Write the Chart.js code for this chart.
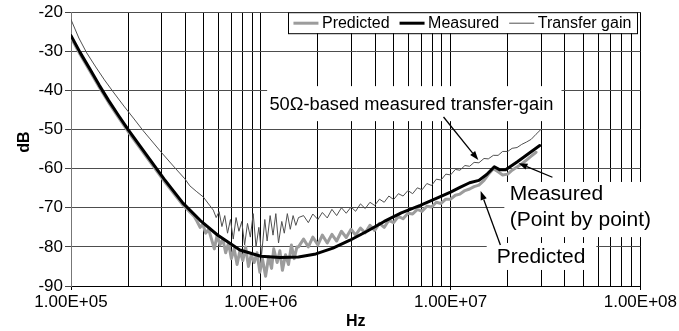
<!DOCTYPE html>
<html><head><meta charset="utf-8">
<script src="https://cdn.jsdelivr.net/npm/chart.js@4/dist/chart.umd.min.js"></script>
<style>html,body{margin:0;padding:0;background:#fff;}canvas{display:block;}</style>
</head><body>
<canvas id="c" width="679" height="331"></canvas>
<script>
const FONT = '"Liberation Sans", Arial, sans-serif';
const seriesNames = ['Predicted', 'Measured', 'Transfer gain'];
const yTicks = [-90, -80, -70, -60, -50, -40, -30, -20];
const xDecadesHz = [1e5, 1e6, 1e7, 1e8];
const xTickLabels = ['1.00E+05', '1.00E+06', '1.00E+07', '1.00E+08'];
const xTitle = 'Hz';
const yTitle = 'dB';

const measuredHz = [1.00e5,1.12e5,1.26e5,1.41e5,1.58e5,1.78e5,2.00e5,2.51e5,3.09e5,3.89e5,4.79e5,5.89e5,7.76e5,1.00e6,1.26e6,1.58e6,1.95e6,2.40e6,2.95e6,3.63e6,4.47e6,5.50e6,6.92e6,8.71e6,1.00e7,1.12e7,1.26e7,1.41e7,1.55e7,1.70e7,1.82e7,1.95e7,2.24e7,2.57e7,2.95e7];
const measuredDb = [-26.0,-30.4,-34.6,-38.7,-42.6,-46.4,-50.0,-56.6,-62.6,-68.8,-73.2,-76.9,-80.8,-82.4,-82.7,-82.6,-81.8,-80.3,-78.3,-76.0,-73.5,-71.3,-69.4,-67.3,-66.0,-64.8,-63.6,-63.0,-61.5,-59.5,-60.3,-60.3,-58.3,-56.2,-54.1];

const transferHz = [1.00e5,1.05e5,1.10e5,1.21e5,1.35e5,1.50e5,1.67e5,1.90e5,2.15e5,2.40e5,2.61e5,3.00e5,3.50e5,3.98e5,4.23e5,4.60e5,4.97e5,5.40e5,5.62e5,
  5.82e5,6.03e5,6.24e5,6.46e5,6.68e5,6.92e5,7.16e5,7.41e5,7.67e5,7.94e5,8.22e5,8.51e5,8.81e5,9.12e5,9.44e5,9.77e5,1.01e6,1.05e6,1.08e6,1.12e6,1.16e6,1.20e6,1.24e6,1.29e6,1.33e6,1.38e6,1.43e6,1.48e6,1.53e6,1.58e6,
  1.68e6,1.78e6,1.88e6,2.00e6,2.11e6,2.24e6,2.37e6,2.51e6,2.66e6,2.82e6,2.99e6,3.16e6,3.35e6,3.55e6,3.76e6,3.98e6,4.22e6,4.47e6,4.73e6,5.01e6,5.31e6,5.62e6,5.96e6,6.31e6,6.68e6,7.08e6,7.50e6,7.94e6,8.41e6,8.91e6,9.44e6,1.00e7,1.06e7,1.12e7,1.19e7,1.26e7,1.33e7,1.41e7,1.50e7,1.58e7,1.68e7,1.78e7,1.88e7,2.00e7,2.11e7,2.24e7,2.37e7,2.51e7,2.66e7,2.82e7,2.99e7];
const transferDb = [-21.9,-24.3,-26.6,-30.4,-34.0,-37.3,-40.4,-44.0,-47.3,-50.3,-52.4,-55.9,-59.6,-62.6,-64.4,-65.9,-67.2,-69.5,-70.6,
  -72.5,-71.0,-74.8,-72.0,-76.5,-73.0,-78.0,-72.5,-76.0,-73.5,-79.5,-74.0,-77.5,-71.5,-80.0,-75.0,-82.0,-73.0,-78.5,-72.0,-77.0,-71.5,-79.0,-73.5,-76.5,-71.5,-75.5,-72.0,-74.5,-72.5,
  -72.0,-73.8,-71.6,-73.0,-71.2,-72.6,-70.4,-72.0,-70.0,-71.4,-69.8,-70.9,-69.0,-70.2,-68.6,-69.4,-67.8,-68.6,-67.0,-67.9,-66.4,-67.0,-65.6,-66.4,-64.9,-65.4,-63.8,-64.3,-62.7,-62.9,-61.4,-61.6,-60.2,-60.4,-59.2,-59.4,-58.4,-58.5,-57.4,-57.5,-56.6,-56.6,-55.6,-55.6,-54.8,-54.6,-53.8,-53.2,-52.5,-51.2,-50.0];

const predictedHz = [1.00e5,1.12e5,1.26e5,1.41e5,1.58e5,1.78e5,2.00e5,2.51e5,3.09e5,3.89e5,4.47e5,
  4.62e5,4.79e5,4.95e5,5.13e5,5.31e5,5.50e5,5.69e5,5.89e5,6.10e5,6.31e5,6.53e5,6.76e5,7.00e5,7.24e5,7.50e5,7.76e5,8.04e5,8.32e5,8.61e5,8.91e5,9.23e5,9.55e5,9.89e5,1.02e6,1.06e6,1.10e6,1.14e6,1.17e6,1.22e6,1.26e6,1.30e6,1.35e6,1.40e6,1.45e6,1.50e6,1.55e6,
  1.58e6,1.68e6,1.78e6,1.88e6,2.00e6,2.11e6,2.24e6,2.37e6,2.51e6,2.66e6,2.82e6,2.99e6,3.16e6,3.35e6,3.55e6,3.76e6,3.98e6,4.22e6,4.47e6,4.73e6,5.01e6,5.31e6,5.62e6,5.96e6,6.31e6,6.68e6,7.08e6,7.50e6,7.94e6,8.41e6,8.91e6,9.44e6,1.00e7,1.06e7,1.12e7,1.19e7,1.26e7,1.33e7,1.41e7,1.50e7,1.58e7,1.68e7,1.78e7,1.88e7,2.00e7,2.11e7,2.24e7,2.37e7,2.51e7,2.66e7,2.82e7];
const predictedDb = [-26.5,-30.9,-35.1,-39.2,-43.1,-46.9,-50.5,-57.1,-63.1,-69.3,-72.3,
  -73.5,-75.0,-74.2,-76.5,-75.5,-78.0,-80.5,-77.0,-79.5,-78.0,-81.5,-79.0,-83.0,-80.5,-84.5,-81.0,-83.5,-80.0,-85.0,-82.0,-84.0,-81.5,-86.5,-83.0,-87.5,-82.5,-85.5,-80.5,-84.0,-81.0,-86.0,-82.0,-84.5,-79.5,-83.0,-80.0,
  -80.0,-78.0,-80.0,-77.5,-79.5,-77.0,-79.0,-76.8,-78.5,-76.0,-77.6,-75.5,-77.0,-75.2,-76.4,-74.5,-75.8,-74.0,-75.0,-73.2,-73.8,-72.2,-72.8,-71.4,-71.6,-70.4,-70.9,-69.6,-69.8,-68.6,-68.9,-67.8,-67.8,-66.8,-66.5,-65.6,-65.2,-64.6,-64.2,-63.0,-61.5,-60.0,-60.8,-61.6,-61.4,-60.4,-59.6,-58.8,-57.8,-56.8,-55.8];

// vertical gridline values: 1..9 x each decade, plus last decade
const gridHz = [];
xDecadesHz.forEach((d, i) => {
  const n = i < xDecadesHz.length - 1 ? 9 : 1;
  for (let k = 1; k <= n; k++) gridHz.push(d * k);
});

const toPoints = (xs, ys) => xs.map((x, i) => ({x: x, y: ys[i]}));

// annotations in data units
const notes = [
  {lines: ['50\u03A9-based measured transfer-gain'], hz: 1.11e6, db: -43.8, size: 18.3, lineGap: 0,
   box: {hz0: 1.08e6, hz1: 3.84e7, db0: -38.9, db1: -47.85}},
  {lines: ['Measured', '(Point by point)'], hz: 2.05e7, db: -66.5, size: 21, lineGap: 26,
   box: {hz0: 1.92e7, hz1: 1.23e8, db0: -63.4, db1: -77.5}},
  {lines: ['Predicted'], hz: 1.75e7, db: -82.7, size: 21, lineGap: 0,
   box: {hz0: 1.55e7, hz1: 5.86e7, db0: -79.0, db1: -85.9}}
];
const arrows = [
  {from: [9.18e6, -46.8], to: [1.40e7, -57.8]},
  {from: [3.44e7, -62.2], to: [2.28e7, -58.6]},
  {from: [1.83e7, -79.5], to: [1.44e7, -65.7]}
];

const seriesStyle = {
  'Predicted': {color: '#9c9c9c', width: 3},
  'Measured': {color: '#000000', width: 3},
  'Transfer gain': {color: '#505050', width: 1}
};

const decor = {
  id: 'decor',
  beforeDraw(chart) {
    const c = chart.ctx;
    c.save(); c.fillStyle = '#fff'; c.fillRect(0, 0, chart.width, chart.height); c.restore();
  },
  afterDraw(chart) {
    const c = chart.ctx, xs = chart.scales.x, ys = chart.scales.y, ca = chart.chartArea;
    c.save();
    // y axis title
    c.font = 'bold 16px ' + FONT;
    c.fillStyle = '#000'; c.textAlign = 'center'; c.textBaseline = 'middle';
    c.translate(25, (ca.top + ca.bottom) / 2 - 7);
    c.rotate(-Math.PI / 2);
    c.fillText(yTitle, 0, 0);
    c.setTransform(1, 0, 0, 1, 0, 0);
    notes.forEach(n => {
      const x0 = xs.getPixelForValue(n.box.hz0), x1 = xs.getPixelForValue(n.box.hz1);
      const y0 = ys.getPixelForValue(n.box.db0), y1 = ys.getPixelForValue(n.box.db1);
      c.fillStyle = '#fff';
      c.fillRect(x0, y0, x1 - x0, y1 - y0);
      c.fillStyle = '#000';
      c.font = n.size + 'px ' + FONT;
      c.textAlign = 'left'; c.textBaseline = 'middle';
      const tx = xs.getPixelForValue(n.hz), ty = ys.getPixelForValue(n.db);
      n.lines.forEach((t, i) => c.fillText(t, tx, ty + i * n.lineGap));
    });
    c.strokeStyle = '#000'; c.fillStyle = '#000'; c.lineWidth = 1.3;
    arrows.forEach(a => {
      const x0 = xs.getPixelForValue(a.from[0]), y0 = ys.getPixelForValue(a.from[1]);
      const x1 = xs.getPixelForValue(a.to[0]), y1 = ys.getPixelForValue(a.to[1]);
      const ang = Math.atan2(y1 - y0, x1 - x0);
      const L = 9, W = 3.2;
      const bx = x1 - L * Math.cos(ang), by = y1 - L * Math.sin(ang);
      c.beginPath(); c.moveTo(x0, y0); c.lineTo(bx, by); c.stroke();
      c.beginPath();
      c.moveTo(x1, y1);
      c.lineTo(bx + W * Math.sin(ang), by - W * Math.cos(ang));
      c.lineTo(bx - W * Math.sin(ang), by + W * Math.cos(ang));
      c.closePath(); c.fill();
    });
    c.font = '16px ' + FONT;
    c.textBaseline = 'middle'; c.textAlign = 'left';
    const sample = 25, gapT = 3.5, gapI = 10, padL = 5, padR = 6;
    let total = padL + padR;
    seriesNames.forEach((s, i) => { total += sample + gapT + c.measureText(s).width + (i ? gapI : 0); });
    const right = ca.right - 3, top = ca.top, h = 21;
    const left = right - total;
    c.fillStyle = '#fff'; c.fillRect(left, top, total, h);
    c.strokeStyle = '#000'; c.lineWidth = 1;
    c.strokeRect(Math.round(left) + 0.5, top + 0.5, Math.round(total), h);
    let x = left + padL;
    const cy = top + h / 2 + 0.5;
    seriesNames.forEach((s, i) => {
      if (i) x += gapI;
      const st = seriesStyle[s];
      c.strokeStyle = st.color; c.lineWidth = st.width;
      c.beginPath(); c.moveTo(x, cy); c.lineTo(x + sample, cy); c.stroke();
      x += sample + gapT;
      c.fillStyle = '#000'; c.fillText(s, x, cy);
      x += c.measureText(s).width;
    });
    c.restore();
  }
};

const mk = (name, xsArr, ysArr, order) => ({
  label: name, data: toPoints(xsArr, ysArr),
  borderColor: seriesStyle[name].color, borderWidth: seriesStyle[name].width,
  pointRadius: 0, tension: 0, fill: false, order: order,
  borderJoinStyle: 'round', borderCapStyle: 'round'
});

new Chart(document.getElementById('c'), {
  type: 'line',
  data: {datasets: [
    mk('Measured', measuredHz, measuredDb, 0),
    mk('Transfer gain', transferHz, transferDb, 1),
    mk('Predicted', predictedHz, predictedDb, 2)
  ]},
  options: {
    responsive: false, animation: false, devicePixelRatio: 1,
    layout: {padding: {left: 0, right: 38, top: 12, bottom: 0}},
    plugins: {legend: {display: false}, tooltip: {enabled: false}},
    scales: {
      x: {
        type: 'logarithmic', min: 1e5, max: 1e8,
        afterBuildTicks: s => { s.ticks = gridHz.map(v => ({value: v})); },
        afterFit: s => { s.height = 45; },
        ticks: {
          autoSkip: false, maxRotation: 0, minRotation: 0, padding: 2, color: '#000',
          font: {family: FONT, size: 17},
          callback: v => { const i = xDecadesHz.indexOf(v); return i >= 0 ? xTickLabels[i] : ''; }
        },
        grid: {
          color: '#000', lineWidth: 1, tickLength: 4,
          tickColor: ctx => (ctx.tick && xDecadesHz.indexOf(ctx.tick.value) >= 0) ? '#000' : 'rgba(0,0,0,0)'
        },
        border: {color: '#000'},
        title: {display: true, text: xTitle, color: '#000', font: {family: FONT, size: 16, weight: 'bold'}, padding: {top: 0, bottom: 0}}
      },
      y: {
        min: -90, max: -20,
        afterBuildTicks: s => { s.ticks = yTicks.map(v => ({value: v})); },
        afterFit: s => { s.width = 71; },
        ticks: {padding: 2, color: '#000', font: {family: FONT, size: 17}, callback: v => String(v)},
        grid: {color: '#4d4d4d', lineWidth: 1, tickLength: 6, tickColor: '#444'},
        border: {color: '#777'},
        title: {display: false}
      }
    }
  },
  plugins: [decor]
});
</script>
</body></html>
